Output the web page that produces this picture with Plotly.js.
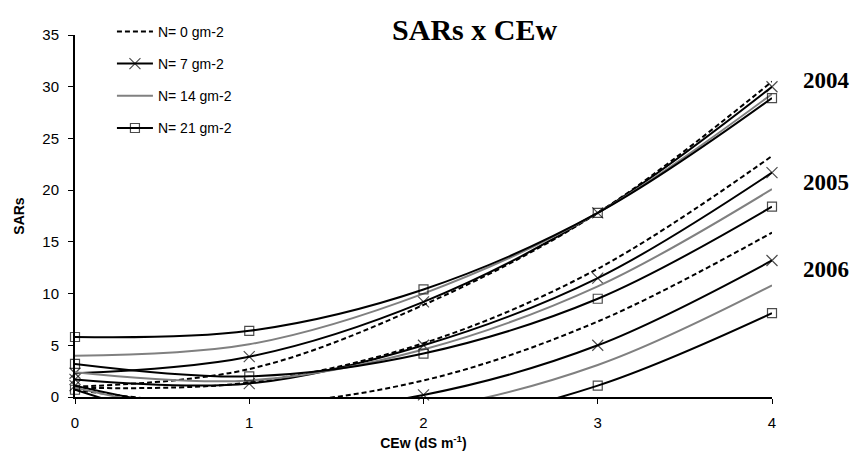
<!DOCTYPE html>
<html>
<head>
<meta charset="utf-8">
<script src="https://cdn.plot.ly/plotly-3.0.1.min.js"></script>
<style>html,body{margin:0;padding:0;background:#fff;}#chart{width:852px;height:455px;}</style>
</head>
<body>
<div id="chart"></div>
<script>
// CEw values (dS m-1)
const cew = [0, 1, 2, 3, 4];
const nLabels = ["N= 0 gm-2", "N= 7 gm-2", "N= 14 gm-2", "N= 21 gm-2"];
const years = ["2004", "2005", "2006"];

// SARs values, per year and N level
const sar2004_n0  = [1.0, 2.7, 8.9, 17.8, 30.5];
const sar2004_n7  = [2.3, 3.9, 9.2, 17.8, 30.0];
const sar2004_n14 = [4.0, 5.1, 10.0, 17.8, 29.3];
const sar2004_n21 = [5.8, 6.4, 10.4, 17.8, 28.9];

const sar2005_n0  = [0.9, 1.4, 5.2, 12.4, 23.3];
const sar2005_n7  = [1.7, 1.3, 5.0, 11.5, 21.7];
const sar2005_n14 = [2.4, 1.6, 4.6, 10.7, 20.1];
const sar2005_n21 = [3.2, 2.0, 4.2, 9.5, 18.4];

const sar2006_n0  = [0.7, -0.7, 1.6, 7.3, 15.9];
const sar2006_n7  = [1.1, -1.6, 0.2, 5.0, 13.2];
const sar2006_n14 = [0.9, -2.0, -1.2, 3.1, 10.8];
const sar2006_n21 = [0.7, -3.5, -2.9, 1.1, 8.1];

const yearLabelY = [30.6, 20.7, 12.3];

const groups = [
  [sar2004_n0, sar2004_n7, sar2004_n14, sar2004_n21],
  [sar2005_n0, sar2005_n7, sar2005_n14, sar2005_n21],
  [sar2006_n0, sar2006_n7, sar2006_n14, sar2006_n21]
];

const styles = [
  {line: {color: '#000', width: 2, dash: '5px,3px', shape: 'spline', smoothing: 1}, mode: 'lines', marker: {}},
  {line: {color: '#000', width: 2, shape: 'spline', smoothing: 1}, mode: 'lines+markers',
   marker: {symbol: 'x-thin-open', size: 11, color: '#000', line: {color: '#000', width: 1.2}}},
  {line: {color: '#808080', width: 2, shape: 'spline', smoothing: 1}, mode: 'lines', marker: {}},
  {line: {color: '#000', width: 2, shape: 'spline', smoothing: 1}, mode: 'lines+markers',
   marker: {symbol: 'square-open', size: 9, color: '#000', line: {color: '#000', width: 1.2}}}
];

const traces = [];
groups.forEach((g, gi) => {
  g.forEach((vals, ni) => {
    const st = styles[ni];
    const mk = Object.assign({}, st.marker);
    if (st.mode.indexOf('markers') >= 0) {
      mk.size = vals.map(v => v >= 0 ? st.marker.size : 0);
    }
    traces.push({
      x: cew, y: vals, type: 'scatter', mode: st.mode,
      name: nLabels[ni], legendgroup: 'n' + ni, showlegend: gi === 0,
      line: st.line, marker: mk, cliponaxis: false, hoverinfo: 'skip'
    });
  });
});

const annotations = years.map((yr, i) => ({
  text: '<b>' + yr + '</b>', xref: 'paper', yref: 'y', x: 1.042, y: yearLabelY[i],
  xanchor: 'left', yanchor: 'middle', showarrow: false,
  font: {family: 'Liberation Serif, Times New Roman, serif', size: 23, color: '#000'}
}));

const layout = {
  width: 852, height: 455,
  margin: {l: 75, r: 80, t: 35, b: 58},
  paper_bgcolor: '#fff', plot_bgcolor: '#fff',
  font: {family: 'Liberation Sans, Arial, sans-serif', size: 15, color: '#000'},
  title: {text: '<b>SARs x CEw</b>', x: 0.557, xref: 'container', y: 0.935, yanchor: 'middle',
          font: {family: 'Liberation Serif, Times New Roman, serif', size: 30, color: '#000'}},
  xaxis: {range: [0, 4], tickvals: cew, ticktext: cew.map(String), showgrid: false, zeroline: false,
          showline: true, linecolor: '#000', linewidth: 1.5, ticks: 'outside', ticklen: 5, tickcolor: '#000',
          tickfont: {size: 15}, ticklabelstandoff: 6, fixedrange: true,
          title: {text: '<b>CEw (dS m<sup>-1</sup>)</b>', font: {size: 14}, standoff: 8}},
  yaxis: {range: [0, 35], dtick: 5, showgrid: false, zeroline: false,
          showline: true, linecolor: '#000', linewidth: 2, ticks: 'outside', ticklen: 5, tickcolor: '#000',
          tickfont: {size: 15}, ticklabelstandoff: 6, fixedrange: true,
          title: {text: '<b>SARs</b>', font: {size: 14}, standoff: 14}},
  showlegend: true,
  legend: {x: 0.053, y: 1.053, xanchor: 'left', yanchor: 'top', bgcolor: 'rgba(0,0,0,0)',
           font: {size: 14}, tracegroupgap: 11, traceorder: 'grouped', itemwidth: 36},
  annotations: annotations
};

Plotly.newPlot('chart', traces, layout, {displayModeBar: false, staticPlot: true});
</script>
</body>
</html>
